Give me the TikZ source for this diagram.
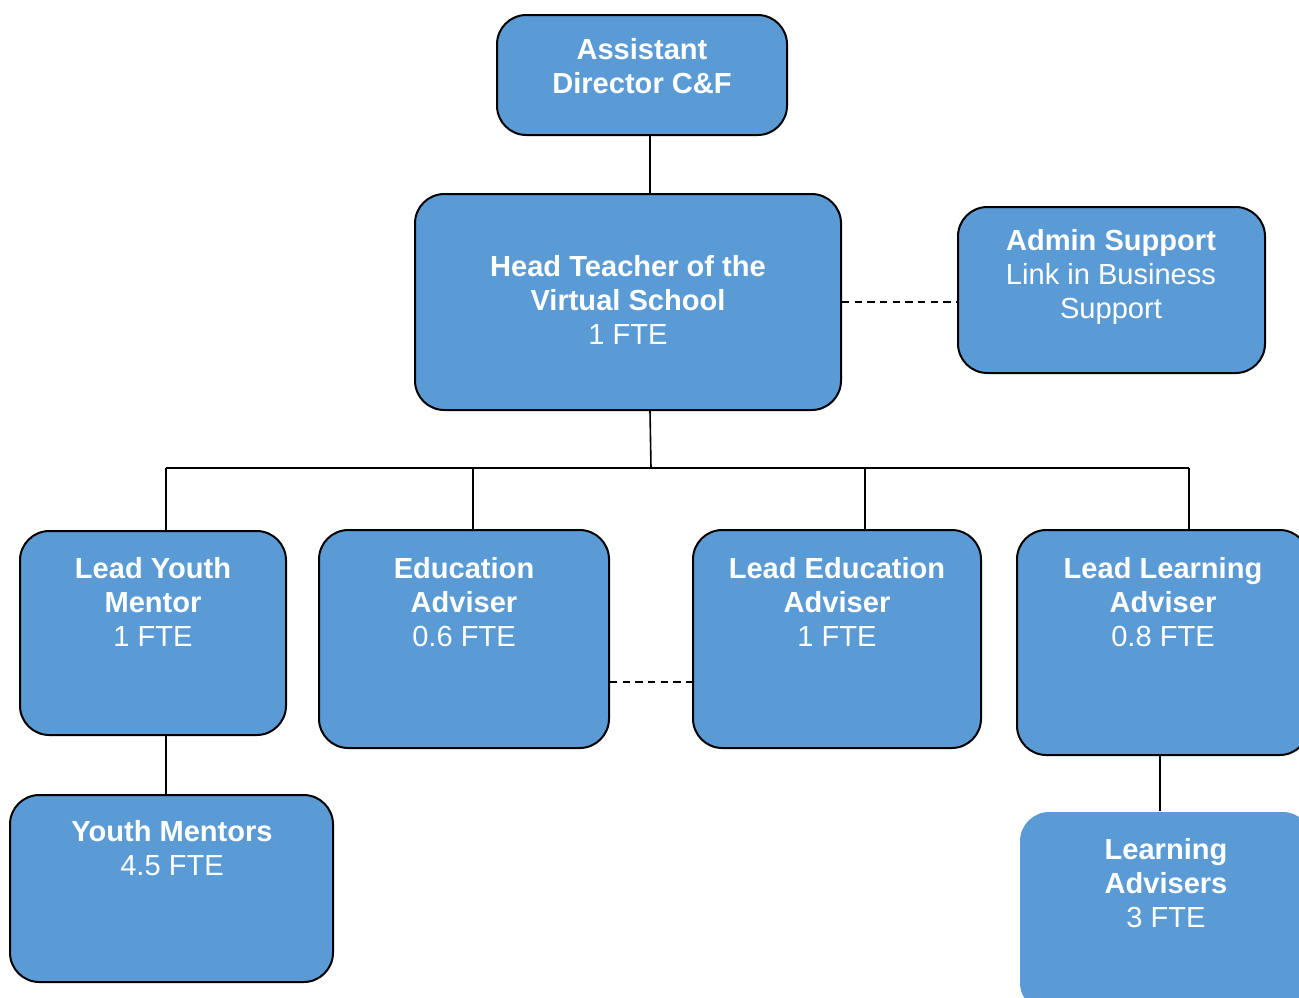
\documentclass[tikz,border=0pt]{standalone}
\usepackage{fontspec}
\setmainfont{Liberation Sans}
\definecolor{boxblue}{HTML}{5B9BD5}
\begin{document}
\begin{tikzpicture}[x=0.75pt,y=-0.75pt,
    box/.style={draw=black,line width=1.5pt,fill=boxblue,rounded corners=22pt,inner sep=0pt},
    nobox/.style={box,draw=none},
    txt/.style={text=white,align=center,font=\fontsize{21.8}{25.5}\selectfont,inner sep=0pt},
    link/.style={line width=1.2pt},
    dashlink/.style={line width=1.2pt,dash pattern=on 5.5pt off 4pt}]

      \useasboundingbox (0,0) rectangle (1299,997);
      \clip (0,0) rectangle (1299,997);

      % boxes
      \node[box,minimum width=217.5pt,minimum height=90pt]    (ad)  at (642,75)     {};
      \node[box,minimum width=319.5pt,minimum height=162pt]   (ht)  at (628,302)    {};
      \node[box,minimum width=230.25pt,minimum height=124.5pt] (adm) at (1111.5,290) {};
      \node[box,minimum width=199.5pt,minimum height=153pt]   (lym) at (153,633)    {};
      \node[box,minimum width=217.5pt,minimum height=163.5pt] (ea)  at (464,639)    {};
      \node[box,minimum width=216pt,minimum height=163.5pt]   (lea) at (837,639)    {};
      \node[box,minimum width=219pt,minimum height=168.75pt]  (lla) at (1163,642.5) {};
      \node[box,minimum width=242.25pt,minimum height=140.25pt] (ym) at (171.5,888.5) {};
      \node[nobox,minimum width=219pt,minimum height=150pt]   (la)  at (1166,912)   {};

      % texts
      \node[txt] (adT)  at (642,66)   {\textbf{Assistant}\\\textbf{Director C\&F}};
      \node[txt] (htT)  at (628,300)  {\textbf{Head Teacher of the}\\\textbf{Virtual School}\\1 FTE};
      \node[txt] (admT) at (1111,277) {\textbf{Admin Support}\\Link in Business\\Support};
      \node[txt] (lymT) at (153,602)  {\textbf{Lead Youth}\\\textbf{Mentor}\\1 FTE};
      \node[txt] (eaT)  at (464,602)  {\textbf{Education}\\\textbf{Adviser}\\0.6 FTE};
      \node[txt] (leaT) at (837,602)  {\textbf{Lead Education}\\\textbf{Adviser}\\1 FTE};
      \node[txt] (llaT) at (1163,602) {\textbf{Lead Learning}\\\textbf{Adviser}\\0.8 FTE};
      \node[txt] (ymT)  at (172,848)  {\textbf{Youth Mentors}\\4.5 FTE};
      \node[txt] (laT)  at (1166,883) {\textbf{Learning}\\\textbf{Advisers}\\3 FTE};

      % connectors
      \coordinate (bus) at (651,468);
      \draw[link] (ad.south -| 650,0) -- (ht.north -| 650,0);
      \draw[link] (ht.south -| 650,0) -- (bus);
      \draw[link] (166,468) -- (1189,468); % bus line
      \foreach \x/\n in {166/lym,473/ea,865/lea,1189/lla}
      \draw[link] (\x,468) -- (\n.north -| \x,0);
      \draw[link] (lym.south -| 166,0) -- (ym.north -| 166,0);
      \draw[link] (lla.south -| 1160,0) -- (la.north -| 1160,0);

      \draw[dashlink] (ht.east |- 0,302) -- (adm.west |- 0,302);
      \draw[dashlink] (ea.east |- 0,682) -- (lea.west |- 0,682);

    \end{tikzpicture}
\end{document}
